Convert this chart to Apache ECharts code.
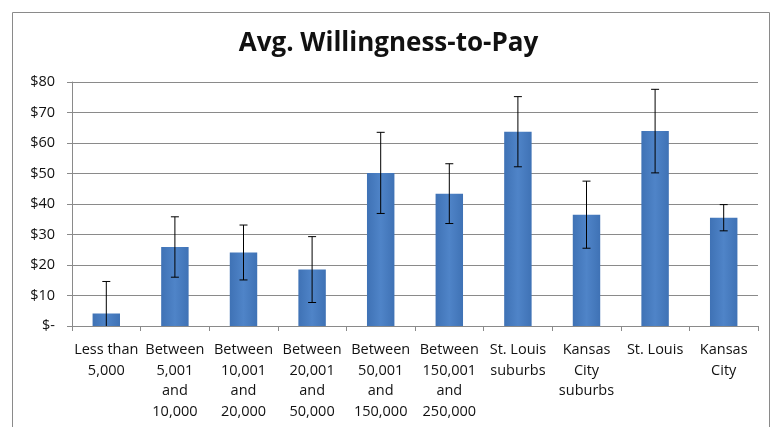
<!DOCTYPE html>
<html><head><meta charset="utf-8">
<script src="https://cdn.jsdelivr.net/npm/echarts@6/dist/echarts.min.js"></script>
<style>html,body{margin:0;padding:0;background:#fff}#c{width:777px;height:427px}</style>
</head><body><div id="c"></div>
<script>
var categories = ['Less than\n5,000','Between\n5,001\nand\n10,000','Between\n10,001\nand\n20,000','Between\n20,001\nand\n50,000','Between\n50,001\nand\n150,000','Between\n150,001\nand\n250,000','St. Louis\nsuburbs','Kansas\nCity\nsuburbs','St. Louis','Kansas\nCity'];
var values = [4.1, 25.9, 24.1, 18.5, 50.2, 43.4, 63.7, 36.5, 63.9, 35.5];
var errors = [10.5, 9.9, 9.0, 10.8, 13.3, 9.8, 11.5, 11.0, 13.7, 4.3];
var yTicks = [0,10,20,30,40,50,60,70,80];

var chart = echarts.init(document.getElementById('c'));
var font = 'Open Sans';
chart.setOption({
  animation:false,
  backgroundColor:'#fff',
  title:{text:'Avg. Willingness-to-Pay',left:'center',top:26,
    textStyle:{fontFamily:font,fontWeight:'bold',fontSize:26,color:'#111'}},
  graphic:[{type:'rect',shape:{x:12.5,y:12.5,width:757,height:430},style:{fill:'none',stroke:'#8a8a8a',lineWidth:1},silent:true}],
  grid:{left:72,right:19,top:82,bottom:101},
  xAxis:{type:'category',data:categories,
    axisLine:{lineStyle:{color:'#8a8a8a'}},
    axisTick:{show:true,length:5,lineStyle:{color:'#8a8a8a'}},
    axisLabel:{interval:0,color:'#111',fontFamily:font,fontSize:14.5,lineHeight:20.5,margin:14}},
  yAxis:{type:'value',min:yTicks[0],max:yTicks[yTicks.length-1],interval:10,
    axisLine:{show:true,lineStyle:{color:'#8a8a8a'}},
    axisTick:{show:true,length:5,lineStyle:{color:'#8a8a8a'}},
    splitLine:{lineStyle:{color:'#8a8a8a'}},
    axisLabel:{color:'#111',fontFamily:font,fontSize:14.5,margin:17,
      formatter:function(v){return v===0?'$-':'$'+v;}}},
  series:[
    {type:'bar',data:values,barWidth:'40%',
      itemStyle:{color:new echarts.graphic.LinearGradient(0,0,1,0,[{offset:0,color:'#3f72b5'},{offset:0.5,color:'#4f84c8'},{offset:1,color:'#3f72b5'}])}},
    {type:'custom',clip:true,z:5,
      data:values.map(function(v,i){return [i,v-errors[i],v+errors[i]];}),
      renderItem:function(params,api){
        var x=api.value(0);
        var lo=api.coord([x,api.value(1)]);
        var hi=api.coord([x,api.value(2)]);
        var hw=4;
        var st={stroke:'#000',lineWidth:1};
        return {type:'group',children:[
          {type:'line',shape:{x1:lo[0],y1:lo[1],x2:hi[0],y2:hi[1]},style:st},
          {type:'line',shape:{x1:hi[0]-hw,y1:hi[1],x2:hi[0]+hw,y2:hi[1]},style:st},
          {type:'line',shape:{x1:lo[0]-hw,y1:lo[1],x2:lo[0]+hw,y2:lo[1]},style:st}
        ]};
      }}
  ]
});
</script></body></html>
